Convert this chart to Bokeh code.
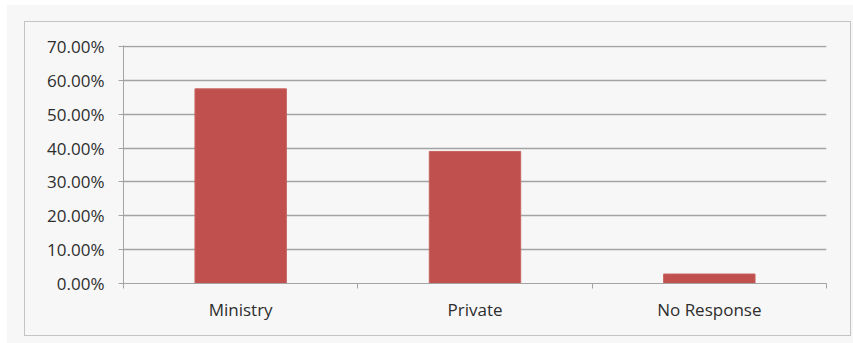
import numpy as np
from bokeh.plotting import figure
from bokeh.layouts import column
from bokeh.models import NumeralTickFormatter, FixedTicker, Range1d, ColumnDataSource
from bokeh.embed import file_html
from bokeh.resources import INLINE

categories = ["Ministry", "Private", "No Response"]
values = [0.575, 0.39, 0.028]
y_ticks = [0.0, 0.1, 0.2, 0.3, 0.4, 0.5, 0.6, 0.7]

xpos = np.arange(len(categories)) + 0.5
src = ColumnDataSource(dict(x=xpos, top=values, cat=categories))

FONT = "Open Sans"
TXT = "#2e2e2e"
GRID = "#a3a3a3"

p = figure(width=825, height=313, output_backend="svg", toolbar_location=None,
           sizing_mode="fixed",
           x_range=Range1d(0, len(categories)), y_range=Range1d(0, 0.703),
           min_border_left=98, min_border_right=24, min_border_top=23, min_border_bottom=52)
p.margin = (17, 0, 0, 18)
p.styles = {"outline": "1px solid #c4c4c4"}
p.background_fill_color = "#f7f7f7"
p.border_fill_color = "#f7f7f7"
p.outline_line_color = None

p.vbar(x="x", top="top", bottom=0, width=0.39, source=src,
       fill_color="#C0504D", line_color="#C8625F", line_width=1)

# y axis
p.yaxis.ticker = FixedTicker(ticks=y_ticks, minor_ticks=[])
p.yaxis.formatter = NumeralTickFormatter(format="0.00%")
p.yaxis.axis_line_color = GRID
p.yaxis.major_tick_line_color = GRID
p.yaxis.major_tick_out = 5
p.yaxis.major_tick_in = 0
p.yaxis.minor_tick_line_color = None
p.yaxis.major_label_standoff = 14
p.yaxis.major_label_text_font = FONT
p.yaxis.major_label_text_font_size = "17px"
p.yaxis.major_label_text_color = TXT

# x axis: labels at centers, tick marks at boundaries (minor ticks)
p.xaxis.ticker = FixedTicker(ticks=list(xpos), minor_ticks=list(range(len(categories) + 1)))
p.xaxis.major_label_overrides = {float(x): c for x, c in zip(xpos, categories)}
p.xaxis.axis_line_color = GRID
p.xaxis.major_tick_line_color = None
p.xaxis.minor_tick_line_color = GRID
p.xaxis.minor_tick_out = 5
p.xaxis.minor_tick_in = 0
p.xaxis.major_label_standoff = 8
p.xaxis.major_label_text_font = FONT
p.xaxis.major_label_text_font_size = "17px"
p.xaxis.major_label_text_color = TXT

p.xgrid.grid_line_color = None
p.ygrid.ticker = FixedTicker(ticks=y_ticks)
p.ygrid.grid_line_color = GRID
p.ygrid.grid_line_width = 1.5

layout = column(p, width=846, height=338, sizing_mode="fixed",
                styles={"background-color": "#f7f7f7"})
layout.margin = (5, 0, 0, 7)

open("out.html", "w").write(file_html(layout, INLINE))
